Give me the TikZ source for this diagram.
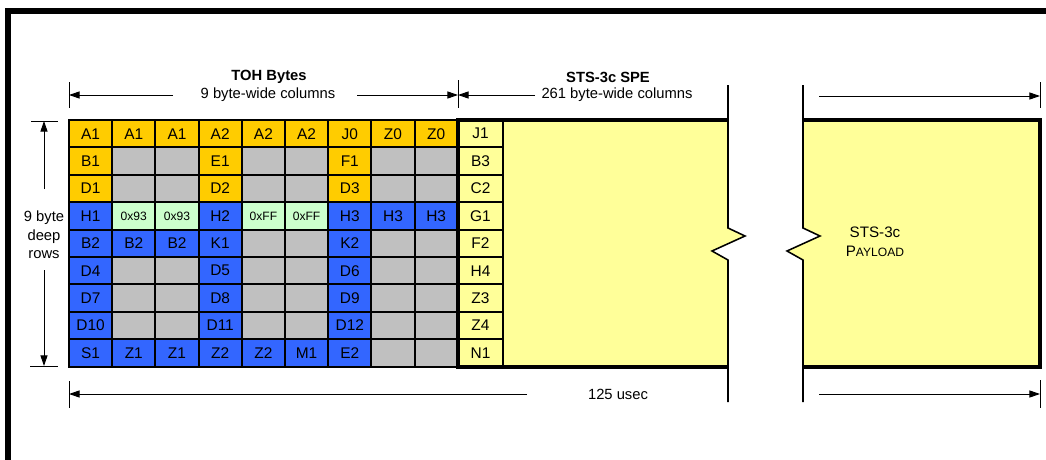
\documentclass[tikz,border=0pt]{standalone}
\usepackage{fontspec}
\setmainfont{Liberation Sans}
\usetikzlibrary{arrows.meta,positioning}

\definecolor{co}{HTML}{FFCC00}
\definecolor{cg}{HTML}{C0C0C0}
\definecolor{cb}{HTML}{3366FF}
\definecolor{ch}{HTML}{CCFFCC}
\definecolor{cy}{HTML}{FFFF99}

\newcommand{\hexbyte}[1]{{\fontsize{8.6}{10}\selectfont #1}}

\begin{document}
\begin{tikzpicture}[
x=0.025cm, y=-0.025cm,
font=\fontsize{10.5}{12.5}\selectfont,
cell/.style={draw,line width=1.3pt,inner sep=0pt,minimum width=1.08cm,minimum height=0.685cm,font=\fontsize{11}{13}\selectfont},
dim/.style={line width=0.7pt,-{Triangle[length=7.5pt,width=5pt]}},
tick/.style={line width=0.7pt},
edge/.style={line width=2.2pt},
breakline/.style={line width=1.1pt}
]
	\useasboundingbox (0,0) rectangle (1046,460);

	% Outer frame
	\draw[line width=4.3pt] (8,470) -- (8,11) -- (1056,11);

	% TOH bytes
	\foreach \cells [count=\r] in {
		{A1/co,A1/co,A1/co,A2/co,A2/co,A2/co,J0/co,Z0/co,Z0/co},
		{B1/co,/cg,/cg,E1/co,/cg,/cg,F1/co,/cg,/cg},
		{D1/co,/cg,/cg,D2/co,/cg,/cg,D3/co,/cg,/cg},
		{H1/cb,\hexbyte{0x93}/ch,\hexbyte{0x93}/ch,H2/cb,\hexbyte{0xFF}/ch,\hexbyte{0xFF}/ch,H3/cb,H3/cb,H3/cb},
		{B2/cb,B2/cb,B2/cb,K1/cb,/cg,/cg,K2/cb,/cg,/cg},
		{D4/cb,/cg,/cg,D5/cb,/cg,/cg,D6/cb,/cg,/cg},
		{D7/cb,/cg,/cg,D8/cb,/cg,/cg,D9/cb,/cg,/cg},
		{D10/cb,/cg,/cg,D11/cb,/cg,/cg,D12/cb,/cg,/cg},
		{S1/cb,Z1/cb,Z1/cb,Z2/cb,Z2/cb,M1/cb,E2/cb,/cg,/cg}}
	{
		\foreach \t/\c [count=\k] in \cells
			\node[cell,fill=\c] (toh-\r-\k) at ({69+43.2*(\k-0.5)},{120+27.4*(\r-0.5)}) {\t};
	}

	% SPE payload area
	\fill[cy] (503,120) -- (728,120) -- (728,228) -- (745,236) -- (712,251) -- (728,260)
		-- (728,367) -- (503,367) -- cycle;
	\fill[cy] (803,120) -- (1040,120) -- (1040,367) -- (803,367) -- (803,260) -- (787,251)
		-- (820,236) -- (803,228) -- cycle;

	% POH column
	\foreach \t [count=\r] in {J1,B3,C2,G1,F2,H4,Z3,Z4,N1}
		\node[cell,fill=cy,minimum width=1.125cm] (poh-\r) at (480.5,{120+27.4*(\r-0.5)}) {\t};

	\draw[edge] (728,120) -- (458,120) -- (458,367) -- (728,367);
	\draw[edge] (803,120) -- (1040,120) -- (1040,367) -- (803,367);

	% Break lines
	\draw[breakline] (728,85) -- (728,228) -- (745,236) -- (712,251) -- (728,260) -- (728,402);
	\draw[breakline] (803,85) -- (803,228) -- (820,236) -- (787,251) -- (803,260) -- (803,402);

	\node[align=center,font=\fontsize{10.8}{13.5}\selectfont] (payload) at (875,242)
		{STS-3c\\P{\fontsize{8.6}{10}\selectfont AYLOAD}};

	% Column dimensions
	\node[font=\bfseries\fontsize{10.5}{12.5}\selectfont] (tohtitle) at (269,77) {TOH Bytes};
	\node (tohcols) at (268,95) {9 byte-wide columns};
	\node[font=\bfseries\fontsize{10.5}{12.5}\selectfont] (spetitle) at (608,77) {STS-3c SPE};
	\node (specols) at (617,95) {261 byte-wide columns};

	\coordinate (tohL) at (69,95);
	\coordinate (tohR) at (458,95);
	\coordinate (speR) at (1040,96);
	\draw[tick] (69,82) -- (69,108);
	\draw[tick] (458,80) -- (458,108);
	\draw[tick] (1040,82) -- (1040,108);
	\draw[dim] (173,95) -- (tohL);
	\draw[dim] (357,95) -- (tohR);
	\draw[dim] (535,95) -- (tohR);
	\draw[dim] (819,96) -- (speR);

	% Frame time
	\node (usec) at (618,394) {125 usec};
	\coordinate (timeL) at (69,394);
	\coordinate (timeR) at (1040,394);
	\draw[tick] (69,381) -- (69,408);
	\draw[tick] (1040,380) -- (1040,408);
	\draw[dim] (527,394) -- (timeL);
	\draw[dim] (819,394) -- (timeR);

	% Row dimension
	\node[align=center,font=\fontsize{10.5}{13.2}\selectfont] (rows) at (44,235) {9 byte\\deep\\rows};
	\coordinate (rowsT) at (44,121);
	\coordinate (rowsB) at (44,366);
	\draw[tick] (31,121) -- (58,121);
	\draw[tick] (30,366) -- (58,366);
	\draw[dim] (44,189) -- (rowsT);
	\draw[dim] (44,270) -- (rowsB);

\end{tikzpicture}
\end{document}
